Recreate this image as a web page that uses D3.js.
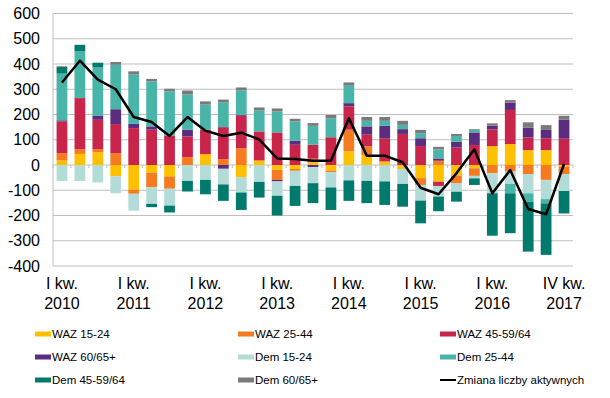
<!DOCTYPE html>
<html>
<head>
<meta charset="utf-8">
<script src="https://cdn.jsdelivr.net/npm/d3@7"></script>
<style>
  body { margin: 0; background: #fff; }
  text { font-family: Arial, "Liberation Sans", sans-serif; fill: #000; }
</style>
</head>
<body>
<svg id="chart" width="610" height="398"></svg>
<script>
// quarters 2010 Q1 .. 2017 Q1
var quarters = d3.range(29).map(function (i) { return (2010 + Math.floor(i / 4)) + "Q" + (i % 4 + 1); });

// tick labels on the category axis (index -> two lines)
var tickIndex = [0, 4, 8, 12, 16, 20, 24, 28];
var tickLabels = [["I kw.", "2010"], ["I kw.", "2011"], ["I kw.", "2012"], ["I kw.", "2013"],
                  ["I kw.", "2014"], ["I kw.", "2015"], ["I kw.", "2016"], ["IV kw.", "2017"]];

var seriesNames = ["WAZ 15-24", "WAZ 25-44", "WAZ 45-59/64", "WAZ 60/65+",
                   "Dem 15-24", "Dem 25-44", "Dem 45-59/64", "Dem 60/65+"];
var seriesColors = ["#FFC000", "#F47B20", "#C9254A", "#5B2C80",
                    "#B3DBD7", "#49B5A9", "#007A6C", "#7A7A7A"];

var waz1524 = [18, 44, 50, -45, -98, -30, -45, 0, 43, 0, -48, 18, -19, -16, 10, -22, 54, 40, 14, -16, -52, -66, -42, -13, 75, 83, 59, 59, -6];
var waz2544 = [29, 19, 13, 47, -16, -58, -49, 31, 0, 23, 66, 0, -40, -7, 15, -6, 86, 34, 0, 0, -27, 17, -31, -30, -33, -26, -36, -59, -30];
var waz4559 = [125, 202, 116, 115, 146, 140, 116, 82, 97, 127, 129, 115, 129, 80, 55, 110, 92, 46, 92, 123, 75, -17, 69, 79, 66, 135, 50, 47, 104];
var waz60   = [5, 0, 17, 59, 17, 13, 0, 27, 0, -15, 3, 0, -6, 16, -8, 0, 13, 33, 49, 19, 31, 9, 23, 50, 15, 29, 39, 33, 75];
var dem1524 = [-63, -63, -69, -67, -67, -66, -67, -63, -59, -62, -61, -67, -57, -60, -64, -61, -61, -63, -65, -59, -62, -42, -33, -10, -79, -49, -76, -76, -67];
var dem2544 = [185, 185, 190, 176, 195, 178, 176, 139, 99, 98, 97, 83, 83, 77, 75, 75, 69, 22, 20, 17, 20, 36, 23, 10, 0, -37, -33, -17, 0];
var dem4559 = [26, 26, 19, 0, 0, -13, -27, -42, -57, -65, -69, -62, -78, -79, -79, -89, -81, -88, -93, -90, -90, -58, -39, -26, -168, -158, -198, -204, -89];
var dem60   = [3, 0, 0, 11, 13, 10, 10, 16, 13, 11, 12, 12, 12, 10, 11, 13, 13, 15, 15, 16, 13, 10, 8, 3, 9, 10, 21, 19, 16];

// Zmiana liczby aktywnych (line)
var zmiana = [327, 413, 338, 300, 190, 170, 115, 190, 136, 115, 128, 101, 26, 24, 17, 17, 185, 37, 37, 11, -90, -116, -33, 62, -112, -20, -174, -195, 4];

var yTicks = [600, 500, 400, 300, 200, 100, 0, -100, -200, -300, -400];

// build rows for d3.stack
var allSeries = [waz1524, waz2544, waz4559, waz60, dem1524, dem2544, dem4559, dem60];
var rows = quarters.map(function (q, i) {
  var r = { q: q };
  seriesNames.forEach(function (n, k) { r[n] = allSeries[k][i]; });
  return r;
});

var margin = { top: 13.5, right: 37, bottom: 132, left: 53 },
  width = 610 - margin.left - margin.right,
  height = 398 - margin.top - margin.bottom;

var svg = d3.select("#chart")
  .append("g")
  .attr("transform", "translate(" + margin.left + "," + margin.top + ")");

var x = d3.scaleBand()
  .domain(quarters)
  .range([0, width])
  .paddingInner(0.4)
  .paddingOuter(0.2);

var y = d3.scaleLinear()
  .domain([-400, 600])
  .range([height, 0]);

// gridlines
svg.append("g")
  .selectAll("line")
  .data(yTicks)
  .enter()
  .append("line")
  .attr("x1", 0)
  .attr("x2", width)
  .attr("y1", function (d) { return y(d); })
  .attr("y2", function (d) { return y(d); })
  .attr("stroke", "#BFBFBF")
  .attr("stroke-width", 1);

// y axis line
svg.append("line")
  .attr("x1", 0).attr("x2", 0)
  .attr("y1", 0).attr("y2", height)
  .attr("stroke", "#BFBFBF");

// y labels
svg.append("g")
  .selectAll("text")
  .data(yTicks)
  .enter()
  .append("text")
  .attr("x", -13)
  .attr("y", function (d) { return y(d); })
  .attr("dy", "0.35em")
  .attr("text-anchor", "end")
  .style("font-size", "16px")
  .text(function (d) { return d; });

// stacked bars
var stack = d3.stack()
  .keys(seriesNames)
  .offset(d3.stackOffsetDiverging);
var layers = stack(rows);

svg.append("g")
  .selectAll("g")
  .data(layers)
  .enter()
  .append("g")
  .attr("fill", function (d, i) { return seriesColors[i]; })
  .selectAll("rect")
  .data(function (d) { return d; })
  .enter()
  .append("rect")
  .attr("x", function (d) { return x(d.data.q); })
  .attr("width", x.bandwidth())
  .attr("y", function (d) { return y(Math.max(d[0], d[1])); })
  .attr("height", function (d) { return Math.abs(y(d[0]) - y(d[1])); });

// category tick marks on the zero line
var step = x.step();
svg.append("g")
  .selectAll("line")
  .data(d3.range(quarters.length + 1))
  .enter()
  .append("line")
  .attr("x1", function (i) { return i * width / quarters.length; })
  .attr("x2", function (i) { return i * width / quarters.length; })
  .attr("y1", y(0))
  .attr("y2", y(0) + 3)
  .attr("stroke", "#BFBFBF");

// line
var line = d3.line()
  .x(function (d, i) { return x(quarters[i]) + x.bandwidth() / 2; })
  .y(function (d) { return y(d); });

svg.append("path")
  .datum(zmiana)
  .attr("d", line)
  .attr("fill", "none")
  .attr("stroke", "#000")
  .attr("stroke-width", 2.5)
  .attr("stroke-linejoin", "round");

// x labels
var xl = svg.append("g")
  .selectAll("text")
  .data(tickIndex)
  .enter()
  .append("text")
  .attr("text-anchor", "middle")
  .style("font-size", "16px")
  .attr("transform", function (d) {
    return "translate(" + (x(quarters[d]) + x.bandwidth() / 2) + "," + (height + 23) + ")";
  });
xl.append("tspan")
  .attr("x", 0).attr("y", 0)
  .text(function (d, i) { return tickLabels[i][0]; });
xl.append("tspan")
  .attr("x", 0).attr("y", 20)
  .text(function (d, i) { return tickLabels[i][1]; });

// legend
var legendItems = seriesNames.map(function (n, i) { return { name: n, color: seriesColors[i], type: "bar" }; });
legendItems.push({ name: "Zmiana liczby aktywnych", color: "#000", type: "line" });

var legend = d3.select("#chart").append("g");
var legendCols = [35, 238, 440];
var legendRows = [334, 357, 380];
var li = legend.selectAll("g")
  .data(legendItems)
  .enter()
  .append("g")
  .attr("transform", function (d, i) {
    return "translate(" + legendCols[i % 3] + "," + legendRows[Math.floor(i / 3)] + ")";
  });
li.append("rect")
  .attr("x", 0)
  .attr("y", function (d) { return d.type == "bar" ? -2.5 : -1; })
  .attr("width", 16)
  .attr("height", function (d) { return d.type == "bar" ? 5 : 2; })
  .attr("fill", function (d) { return d.color; });
li.append("text")
  .attr("x", 17)
  .attr("y", 0)
  .attr("dy", "0.35em")
  .style("font-size", "11.5px")
  .text(function (d) { return d.name; });
</script>
</body>
</html>
